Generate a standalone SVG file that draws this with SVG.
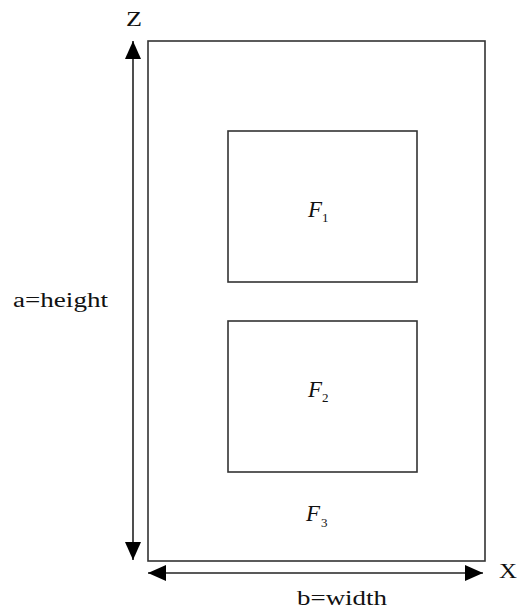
<svg xmlns="http://www.w3.org/2000/svg" width="517" height="611" viewBox="0 0 517 611">
<style>
.box{fill:none;stroke:#333;stroke-width:1.6}
.ax{stroke:#222;stroke-width:1.6;fill:none}
.t{font-family:"Liberation Serif",serif;font-size:20px;fill:#111}
.f{font-family:"Liberation Serif",serif;font-size:23px;font-style:italic;fill:#111}
.s{font-family:"Liberation Serif",serif;font-size:13px;fill:#111}
</style>
<defs>
<marker id="ah" viewBox="0 0 18 16" refX="18" refY="8" markerWidth="18" markerHeight="16" markerUnits="userSpaceOnUse" orient="auto-start-reverse">
<path d="M0,0 L18,8 L0,16 Z" fill="#000"/>
</marker>
</defs>
<g id="outer"><rect class="box" x="148" y="41" width="337" height="520"/></g>
<g id="F1node"><rect class="box" x="228" y="131" width="189" height="151"/>
<text class="f" x="308" y="217">F</text><text class="s" x="322" y="222">1</text></g>
<g id="F2node"><rect class="box" x="228" y="321" width="189" height="151"/>
<text class="f" x="308" y="397">F</text><text class="s" x="322" y="402">2</text></g>
<g id="F3node"><text class="f" x="306" y="521">F</text><text class="s" x="321" y="527">3</text></g>
<g id="connectors">
<line class="ax" x1="133" y1="41" x2="133" y2="560" marker-start="url(#ah)" marker-end="url(#ah)"/>
<line class="ax" x1="148" y1="573" x2="483" y2="573" marker-start="url(#ah)" marker-end="url(#ah)"/>
</g>
<g id="labels">
<text class="t" x="126" y="26" textLength="16" lengthAdjust="spacingAndGlyphs">Z</text>
<text class="t" x="499" y="578" font-size="21" textLength="18" lengthAdjust="spacingAndGlyphs">X</text>
<text class="t" x="297" y="605" textLength="90" lengthAdjust="spacingAndGlyphs">b=width</text>
<text class="t" x="13" y="307" textLength="95" lengthAdjust="spacingAndGlyphs">a=height</text>
</g>
</svg>
